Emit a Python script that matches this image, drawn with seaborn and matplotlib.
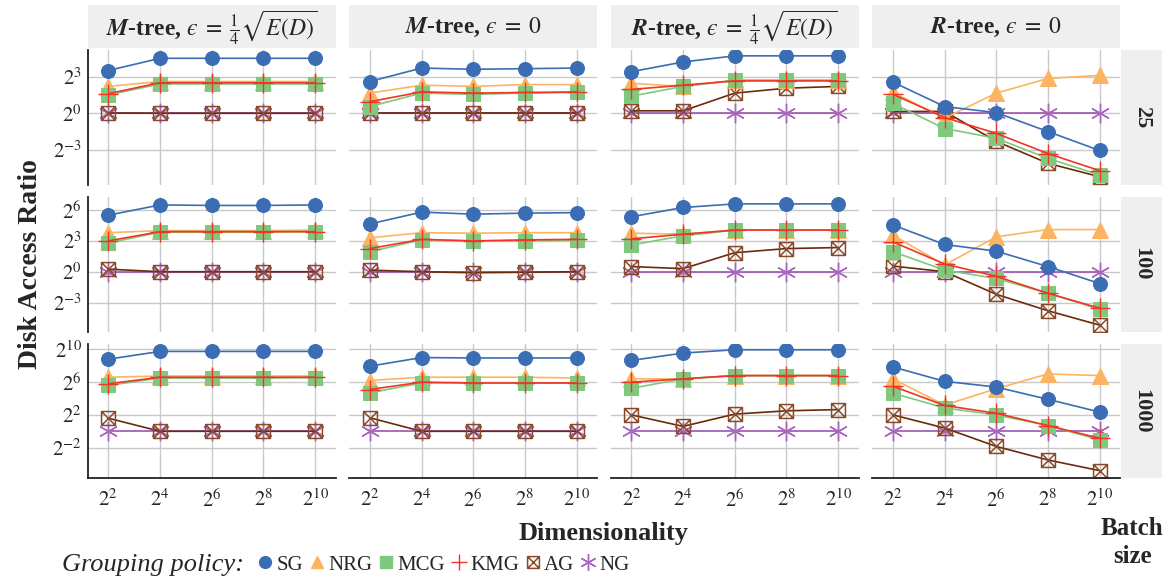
import numpy as np
import pandas as pd
import matplotlib.pyplot as plt
import seaborn as sns
from matplotlib.path import Path
from matplotlib.lines import Line2D
from matplotlib.patches import Rectangle
from matplotlib.ticker import FuncFormatter, FixedLocator, NullLocator

# x values and facet labels
dims = [4, 16, 64, 256, 1024]
batch_sizes = [25, 100, 1000]
index_titles = ["$\\mathbfit{M}$-tree, $\u03f5\\;=\\;\\frac{1}{4}\\sqrt{E(D)}$",
                "$\\mathbfit{M}$-tree, $\u03f5\\;=\\;0$",
                "$\\mathbfit{R}$-tree, $\u03f5\\;=\\;\\frac{1}{4}\\sqrt{E(D)}$",
                "$\\mathbfit{R}$-tree, $\u03f5\\;=\\;0$"]
policies = ["SG", "NRG", "MCG", "KMG", "AG", "NG"]

# log2(disk access ratio), rows in the order of `policies`
m_eps_25 = [[3.5, 4.5, 4.5, 4.5, 4.5],
            [2.2, 2.6, 2.6, 2.6, 2.6],
            [1.5, 2.4, 2.4, 2.4, 2.4],
            [1.6, 2.5, 2.5, 2.5, 2.5],
            [0.02, 0.0, 0.0, 0.0, 0.0],
            [0, 0, 0, 0, 0]]
m_zero_25 = [[2.6, 3.7, 3.6, 3.65, 3.7],
             [1.65, 2.3, 2.2, 2.35, 2.35],
             [0.55, 1.65, 1.55, 1.65, 1.7],
             [0.95, 1.75, 1.65, 1.7, 1.75],
             [0, 0, 0, 0, 0],
             [0, 0, 0, 0, 0]]
r_eps_25 = [[3.4, 4.2, 4.7, 4.7, 4.7],
            [2.45, 2.2, 2.7, 2.7, 2.7],
            [1.4, 2.2, 2.7, 2.7, 2.7],
            [1.95, 2.3, 2.65, 2.65, 2.65],
            [0.2, 0.2, 1.65, 2.05, 2.2],
            [0, 0, 0, 0, 0]]
r_zero_25 = [[2.55, 0.55, 0.05, -1.5, -3.05],
             [1.7, -0.4, 1.65, 2.85, 3.1],
             [0.8, -1.25, -2.05, -3.7, -5.05],
             [1.55, -0.35, -1.65, -3.3, -4.7],
             [0.15, 0.15, -2.3, -4.1, -5.2],
             [0, 0, 0, 0, 0]]

m_eps_100 = [[5.5, 6.5, 6.45, 6.45, 6.5],
             [3.8, 4.0, 4.0, 4.0, 4.05],
             [2.8, 3.85, 3.85, 3.85, 3.9],
             [3.0, 3.9, 3.9, 3.9, 3.9],
             [0.25, 0.0, 0.0, 0.0, 0.0],
             [0, 0, 0, 0, 0]]
m_zero_100 = [[4.65, 5.8, 5.6, 5.7, 5.75],
              [3.3, 3.8, 3.75, 3.8, 3.8],
              [1.95, 3.1, 3.0, 3.0, 3.1],
              [2.25, 3.15, 3.0, 3.1, 3.15],
              [0.15, 0.0, -0.1, -0.05, 0.0],
              [0, 0, 0, 0, 0]]
r_eps_100 = [[5.35, 6.25, 6.6, 6.6, 6.6],
             [3.75, 3.65, 4.05, 4.05, 4.05],
             [2.6, 3.5, 4.05, 4.05, 4.05],
             [3.2, 3.65, 4.05, 4.05, 4.05],
             [0.5, 0.3, 1.85, 2.25, 2.35],
             [0, 0, 0, 0, 0]]
r_zero_100 = [[4.55, 2.65, 2.0, 0.5, -1.15],
              [3.55, 0.65, 3.4, 4.1, 4.1],
              [1.95, 0.15, -0.65, -2.1, -3.65],
              [2.9, 0.75, -0.45, -2.1, -3.55],
              [0.55, 0.0, -2.2, -3.8, -5.2],
              [0, 0, 0, 0, 0]]

m_eps_1000 = [[8.8, 9.75, 9.75, 9.75, 9.75],
              [6.6, 6.75, 6.75, 6.75, 6.75],
              [5.6, 6.5, 6.5, 6.5, 6.55],
              [5.8, 6.6, 6.6, 6.6, 6.6],
              [1.6, 0, 0, 0, 0],
              [0, 0, 0, 0, 0]]
m_zero_1000 = [[7.95, 9.0, 8.95, 8.95, 8.95],
               [6.2, 6.6, 6.6, 6.6, 6.5],
               [4.7, 5.9, 5.9, 5.9, 5.9],
               [5.1, 6.0, 5.9, 5.9, 5.9],
               [1.65, 0, 0, 0, 0],
               [0, 0, 0, 0, 0]]
r_eps_1000 = [[8.65, 9.55, 9.95, 9.95, 9.95],
              [6.4, 6.4, 6.8, 6.8, 6.8],
              [5.25, 6.4, 6.8, 6.8, 6.8],
              [6.0, 6.4, 6.8, 6.8, 6.8],
              [2.0, 0.6, 2.1, 2.5, 2.65],
              [0, 0, 0, 0, 0]]
r_zero_1000 = [[7.85, 6.1, 5.4, 3.9, 2.35],
               [6.4, 3.2, 5.2, 7.0, 6.8],
               [4.65, 2.85, 2.0, 0.7, -1.05],
               [5.5, 3.15, 2.2, 0.7, -0.85],
               [2.0, 0.4, -1.85, -3.5, -4.8],
               [0, 0, 0, 0, 0]]

# y ticks (log2) and limits for each batch-size row
row_yticks = {25: [-3, 0, 3], 100: [-3, 0, 3, 6], 1000: [-2, 2, 6, 10]}
row_ylim = {25: (-5.85, 5.18), 100: (-5.82, 7.29), 1000: (-5.74, 10.7)}

panels = {
    (25, 0): m_eps_25, (25, 1): m_zero_25, (25, 2): r_eps_25, (25, 3): r_zero_25,
    (100, 0): m_eps_100, (100, 1): m_zero_100, (100, 2): r_eps_100, (100, 3): r_zero_100,
    (1000, 0): m_eps_1000, (1000, 1): m_zero_1000, (1000, 2): r_eps_1000, (1000, 3): r_zero_1000,
}

rows = []
for (b, ci), table in panels.items():
    for p, vals in zip(policies, table):
        for d, v in zip(dims, vals):
            rows.append({"batch": b, "index": index_titles[ci], "policy": p,
                         "dim": d, "ratio": 2.0 ** v})
df = pd.DataFrame(rows)

# box with a cross for AG
box_x = Path([(-1, -1), (1, -1), (1, 1), (-1, 1), (-1, -1),
              (-1, -1), (1, 1), (-1, 1), (1, -1)],
             [Path.MOVETO, Path.LINETO, Path.LINETO, Path.LINETO, Path.CLOSEPOLY,
              Path.MOVETO, Path.LINETO, Path.MOVETO, Path.LINETO])

styles = {
    "SG": dict(color="#3a6db3", marker="o", markersize=10, mec="#3a6db3", lw=1.2),
    "NRG": dict(color="#fdb462", marker="^", markersize=11, mec="#fdb462", lw=1.2),
    "MCG": dict(color="#7fc97f", marker="s", markersize=10, mec="#7fc97f", lw=1.2),
    "KMG": dict(color="#f03524", marker="+", markersize=14, mec="#f03524", mew=1.0, lw=1.2),
    "AG": dict(color="#6b2a0c", marker=box_x, markersize=10, mec="#8a4a2a", mfc="none", mew=1.1, lw=1.2),
    "NG": dict(color="#9a55b0", marker=(6, 2, 0), markersize=14, mec="#a866bd", mew=1.0, lw=1.2),
}
draw_order = ["NG", "AG", "NRG", "MCG", "KMG", "SG"]

sns.set_style("whitegrid")
plt.rcParams["font.family"] = ["Liberation Serif", "DejaVu Serif"]
plt.rcParams["mathtext.fontset"] = "stix"


def draw_panel(data, **kws):
    ax = plt.gca()
    for p in draw_order:
        sub = data[data["policy"] == p]
        sns.lineplot(data=sub, x="dim", y="ratio", ax=ax, errorbar=None,
                     legend=False, **styles[p])


g = sns.FacetGrid(df, row="batch", col="index", row_order=batch_sizes,
                  col_order=index_titles, sharex=True, sharey="row",
                  height=1.4, aspect=1.8, despine=False)
g.map_dataframe(draw_panel)
g.set_titles("")
g.set_axis_labels("", "")

fig = g.figure
fig.set_size_inches(11.72, 5.8)
fig.subplots_adjust(left=0.0748, right=0.9559, top=0.9138, bottom=0.1753,
                    wspace=0.0544, hspace=0.09)

fmt = FuncFormatter(lambda v, pos: r"$2^{%d}$" % int(round(np.log2(v))))
for i, b in enumerate(batch_sizes):
    for j in range(4):
        ax = g.axes[i, j]
        ax.set_xscale("log", base=2)
        ax.set_yscale("log", base=2)
        ax.set_xlim(2 ** 1.2, 2 ** 10.8)
        lo, hi = row_ylim[b]
        ax.set_ylim(2 ** lo, 2 ** hi)
        ax.xaxis.set_major_locator(FixedLocator(dims))
        ax.yaxis.set_major_locator(FixedLocator([2.0 ** t for t in row_yticks[b]]))
        ax.xaxis.set_minor_locator(NullLocator())
        ax.yaxis.set_minor_locator(NullLocator())
        ax.xaxis.set_major_formatter(fmt)
        ax.yaxis.set_major_formatter(fmt)
        ax.grid(True, color="#c9c9c9", lw=1.0)
        ax.set_axisbelow(True)
        for s in ["top", "right"]:
            ax.spines[s].set_visible(False)
        ax.spines["left"].set_visible(j == 0)
        ax.spines["bottom"].set_visible(i == 2)
        ax.spines["left"].set_color("#222222")
        ax.spines["bottom"].set_color("#222222")
        ax.spines["left"].set_linewidth(1.3)
        ax.spines["bottom"].set_linewidth(1.3)
        ax.tick_params(axis="x", length=5 if i == 2 else 0, width=1.0,
                       color="#222222", labelsize=15, pad=3)
        ax.tick_params(axis="y", length=0, labelsize=15, pad=4)
        if j > 0:
            ax.tick_params(axis="y", labelleft=False)
        if i < 2:
            ax.tick_params(axis="x", labelbottom=False)
        # strips
        if i == 0:
            ax.add_patch(Rectangle((0, 1.013), 1, 0.32, transform=ax.transAxes,
                                   facecolor="#efefef", edgecolor="none", clip_on=False))
            ax.text(0.5, 1.165, index_titles[j], transform=ax.transAxes,
                    ha="center", va="center", fontsize=17, fontweight="bold")
        if j == 3:
            ax.add_patch(Rectangle((1.003, 0), 0.165, 1, transform=ax.transAxes,
                                   facecolor="#efefef", edgecolor="none", clip_on=False))
            ax.text(1.086, 0.5, str(b), transform=ax.transAxes, rotation=270,
                    ha="center", va="center", fontsize=16, fontweight="bold")

fig.text(0.026, 0.545, "Disk Access Ratio", rotation=90, ha="center", va="center",
         fontsize=20, fontweight="bold")
fig.text(0.515, 0.081, "Dimensionality", ha="center", va="center",
         fontsize=19, fontweight="bold")
fig.text(0.966, 0.065, "Batch\nsize", ha="center", va="center",
         fontsize=18, fontweight="bold", linespacing=1.3)

handles = []
for p in policies:
    st = styles[p]
    handles.append(Line2D([], [], linestyle="", marker=st["marker"],
                          markersize=st["markersize"] * 0.85, color=st["color"],
                          mec=st["mec"], mfc=st.get("mfc", st["color"]),
                          mew=st.get("mew", 1.0)))
fig.text(0.053, 0.026, "Grouping policy:", ha="left", va="center",
         fontsize=19, fontstyle="italic")
fig.legend(handles, policies, loc="center left", bbox_to_anchor=(0.221, 0.026),
           ncol=6, frameon=False, fontsize=15, handlelength=0.6,
           handletextpad=0.25, columnspacing=0.35, borderaxespad=0, borderpad=0)

fig.savefig("out.png", dpi=100)
